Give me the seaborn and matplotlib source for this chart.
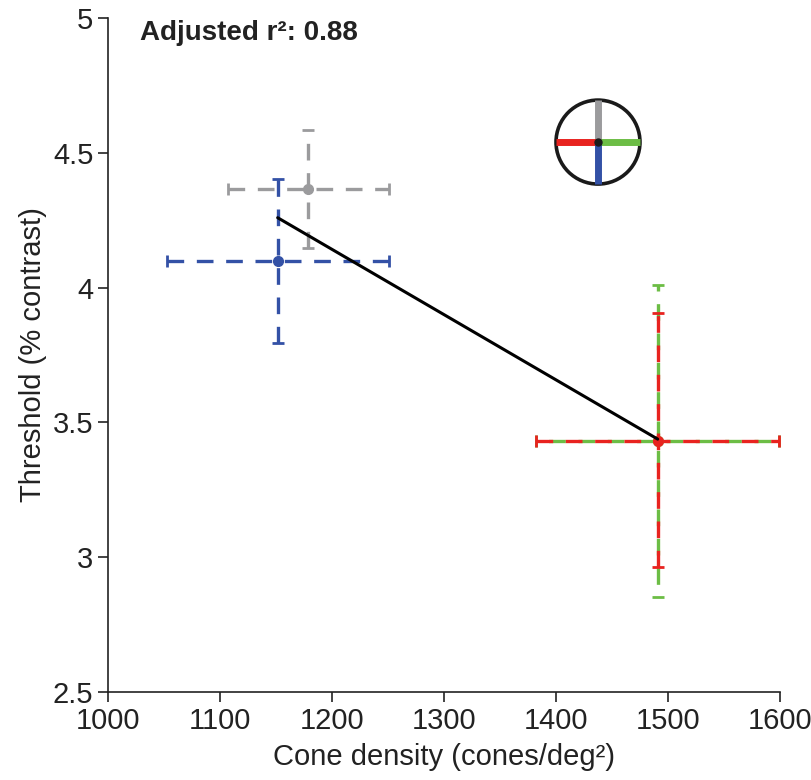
import numpy as np
import pandas as pd
import matplotlib
matplotlib.use("Agg")
import matplotlib.pyplot as plt
import seaborn as sns
from matplotlib.patches import Circle

# values
conditions = ["gray", "blue", "red", "green"]
cone_density = [1178.8, 1151.5, 1490.8, 1490.8]
threshold = [4.366, 4.100, 3.431, 3.431]
x_lo = [1106.9, 1052.4, 1382.0, 1382.0]
x_hi = [1251.0, 1251.0, 1599.4, 1599.4]
y_lo = [4.146, 3.796, 2.965, 2.854]
y_hi = [4.585, 4.403, 3.905, 4.010]
colors = {"gray": "#9b9b9d", "blue": "#3351a6", "red": "#e8231f", "green": "#6cbd45"}
r2_text = "Adjusted r²: 0.88"
x_ticks = [1000, 1100, 1200, 1300, 1400, 1500, 1600]
y_ticks = [2.5, 3, 3.5, 4, 4.5, 5]
y_ticklabels = ["2.5", "3", "3.5", "4", "4.5", "5"]

df = pd.DataFrame({"cond": conditions, "x": cone_density, "y": threshold,
                   "xlo": x_lo, "xhi": x_hi, "ylo": y_lo, "yhi": y_hi})

sns.set_style("ticks")
plt.rcParams['font.family'] = ['Liberation Sans Narrow', 'Liberation Sans', 'DejaVu Sans']

fig = plt.figure(figsize=(8.12, 7.8), dpi=100)
ax = fig.add_axes([0.133, 0.1128, 0.8276, 0.8642])

# error bars, green drawn first so red sits on top
order = ["gray", "blue", "green", "red"]
for c in order:
    r = df[df.cond == c].iloc[0]
    off = 5 if c == "green" else 0
    eb = ax.errorbar(r.x, r.y, xerr=[[r.x - r.xlo], [r.xhi - r.x]],
                     yerr=[[r.y - r.ylo], [r.yhi - r.y]],
                     fmt='o', color=colors[c], ms=7, lw=2.4, capsize=4, capthick=2,
                     zorder=3)
    for lc in eb[2]:
        lc.set_linestyle((off, (5, 3.8)))

# regression line through the four points
sns.regplot(data=df, x="x", y="y", scatter=False, ci=None, truncate=True,
            color="black", line_kws={"lw": 2.2, "zorder": 4}, ax=ax)

ax.set_xlim(1000, 1600)
ax.set_ylim(2.5, 5)
ax.set_xticks(x_ticks)
ax.set_yticks(y_ticks)
ax.set_yticklabels(y_ticklabels)
ax.tick_params(labelsize=21, length=7, width=1.2, colors="#222222")
for s in ["left", "bottom"]:
    ax.spines[s].set_linewidth(1.2)
    ax.spines[s].set_color("#222222")
sns.despine(ax=ax)
ax.set_xlabel("Cone density (cones/deg²)", fontsize=21, color="#222222", labelpad=6)
ax.set_ylabel("Threshold (% contrast)", fontsize=21, color="#222222")

ax.text(0.047, 0.997, r2_text, transform=ax.transAxes, fontsize=20,
        fontweight="bold", family=["Liberation Sans", "DejaVu Sans"],
        va="top", ha="left", color="#222222")

# orientation icon
ins = fig.add_axes([0.6806, 0.7597, 0.1117, 0.1163])
ins.set_xlim(-1.08, 1.08)
ins.set_ylim(-1.08, 1.08)
ins.set_aspect("equal")
ins.axis("off")
ins.plot([0, 0], [0, 1], color=colors["gray"], lw=5, solid_capstyle="butt")
ins.plot([0, -1], [0, 0], color=colors["red"], lw=5, solid_capstyle="butt")
ins.plot([0, 1], [0, 0], color=colors["green"], lw=5, solid_capstyle="butt")
ins.plot([0, 0], [0, -1], color=colors["blue"], lw=5, solid_capstyle="butt")
ins.add_patch(Circle((0, 0), 1, fill=False, lw=2.6, ec="#1a1a1a"))
ins.plot(0, 0, 'o', color="#1a1a1a", ms=5)

fig.savefig("out.png", dpi=100)
